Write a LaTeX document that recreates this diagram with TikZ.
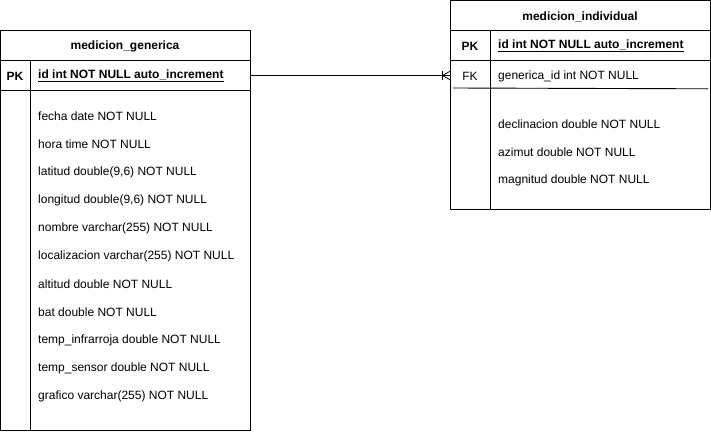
\documentclass[tikz,border=0pt]{standalone}
\usepackage{fontspec}
\setmainfont{Liberation Sans}
\begin{document}
\begin{tikzpicture}[x=1pt,y=-1pt,
  tbl/.style={draw=black,line width=0.9pt,anchor=north west,inner sep=0pt,outer sep=0pt},
  row/.style={anchor=west,inner sep=0pt,font=\fontsize{12}{14}\selectfont},
  key/.style={anchor=center,inner sep=0pt,font=\fontsize{12}{14}\selectfont},
  title/.style={anchor=center,inner sep=0pt,font=\fontsize{12}{14}\selectfont\bfseries},
  sep/.style={draw=black,line width=0.9pt},
  conn/.style={draw=black,line width=0.8pt}]
\useasboundingbox (0,0) rectangle (711,431);
% ---- medicion_generica ----
\node[tbl,minimum width=250pt,minimum height=400pt] (gen) at (0.5,30.5) {};
\node[title] (gent) at (125,46) {medicion\_generica};
\draw[sep] (0.5,60.5) -- (250.5,60.5);
\draw[sep] (0.5,90.5) -- (250.5,90.5);
\draw[sep] (30.5,60.5) -- (30.5,430.5);
\node[key,font=\fontsize{12}{14}\selectfont\bfseries] (genpkk) at (15,76) {PK};
\node[row,font=\fontsize{12}{14}\selectfont\bfseries] (genpk) at (38,76) {\underline{id int NOT NULL auto\_increment}};
\coordinate (genpkE) at (250.5,75.5);
\node[row] (g1) at (38,116) {fecha date NOT NULL};
\node[row] (g2) at (38,144) {hora time NOT NULL};
\node[row] (g3) at (38,172) {latitud double(9,6) NOT NULL};
\node[row] (g4) at (38,200) {longitud double(9,6) NOT NULL};
\node[row] (g5) at (38,228) {nombre varchar(255) NOT NULL};
\node[row] (g6) at (38,256) {localizacion varchar(255) NOT NULL};
\node[row] (g7) at (38,284) {altitud double NOT NULL};
\node[row] (g8) at (38,312) {bat double NOT NULL};
\node[row] (g9) at (38,340) {temp\_infrarroja double NOT NULL};
\node[row] (g10) at (38,368) {temp\_sensor double NOT NULL};
\node[row] (g11) at (38,396) {grafico varchar(255) NOT NULL};
% ---- medicion_individual ----
\node[tbl,minimum width=260pt,minimum height=209pt] (ind) at (450.5,0.5) {};
\node[title] (indt) at (580,16.5) {medicion\_individual};
\draw[sep] (450.5,30.5) -- (710.5,30.5);
\draw[sep] (450.5,60.5) -- (710.5,60.5);
\draw[sep] (453,88) -- (708,88.8);
\draw[sep] (490.5,30.5) -- (490.5,209.5);
\node[key,font=\fontsize{12}{14}\selectfont\bfseries] (indpkk) at (470,46) {PK};
\node[row,font=\fontsize{12}{14}\selectfont\bfseries] (indpk) at (498,46) {\underline{id int NOT NULL auto\_increment}};
\node[key] (indfkk) at (470,76) {FK};
\node[row] (indfk) at (498,76) {generica\_id int NOT NULL};
\coordinate (indfkW) at (450.5,75.5);
\node[row] (i1) at (498,124) {declinacion double NOT NULL};
\node[row] (i2) at (498,152) {azimut double NOT NULL};
\node[row] (i3) at (498,180) {magnitud double NOT NULL};
% ---- connector ----
\draw[conn] (genpkE) -- (indfkW);
\draw[conn] ([xshift=-8pt]indfkW) -- ([yshift=-4.5pt]indfkW);
\draw[conn] ([xshift=-8pt]indfkW) -- ([yshift=4.5pt]indfkW);
\draw[conn] ([xshift=-8pt,yshift=-4.5pt]indfkW) -- ([xshift=-8pt,yshift=4.5pt]indfkW);
\end{tikzpicture}
\end{document}
